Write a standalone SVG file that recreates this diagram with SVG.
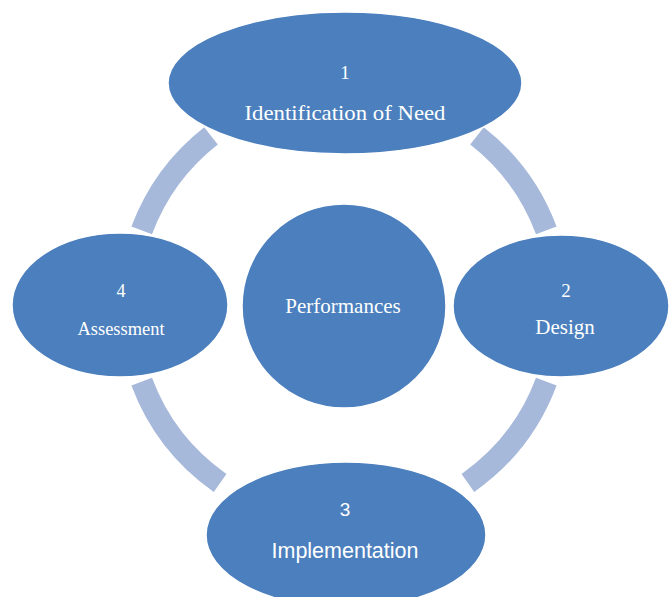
<svg xmlns="http://www.w3.org/2000/svg" width="670" height="597" viewBox="0 0 670 597">
<style>
.arc{fill:none;stroke:#A7B9DB;stroke-width:22;stroke-linecap:butt}
.node{fill:#4C7FBD;stroke:#FFFFFF;stroke-width:1.5}
.serif{font-family:"Liberation Serif","Times New Roman",serif;fill:#FFFFFF;text-anchor:middle}
.sans{font-family:"Liberation Sans",Arial,sans-serif;fill:#FFFFFF;text-anchor:middle}
</style>
<rect width="670" height="597" fill="#FFFFFF"/>
<g id="connectors">
<path class="arc" d="M211,135.8 A216,216 0 0 0 141.7,230.4"/>
<path class="arc" d="M477,135.8 A216,216 0 0 1 546.3,230.4"/>
<path class="arc" d="M546.3,381.6 A216,216 0 0 1 467.9,482.9"/>
<path class="arc" d="M220.1,482.9 A216,216 0 0 1 141.7,381.6"/>
</g>
<g id="node-center">
<circle class="node" cx="344" cy="306" r="102"/>
<text class="serif" x="343" y="313" font-size="21">Performances</text>
</g>
<g id="node-1">
<ellipse class="node" cx="345" cy="83" rx="177" ry="71"/>
<text class="serif" x="345" y="79" font-size="19">1</text>
<text class="serif" x="345" y="120" font-size="21" textLength="201" lengthAdjust="spacingAndGlyphs">Identification of Need</text>
</g>
<g id="node-2">
<ellipse class="node" cx="561" cy="306" rx="108" ry="71"/>
<text class="serif" x="566" y="297" font-size="19">2</text>
<text class="serif" x="565" y="334" font-size="21">Design</text>
</g>
<g id="node-3">
<ellipse class="node" cx="346" cy="535" rx="140" ry="73"/>
<text class="sans" x="345" y="516" font-size="19">3</text>
<text class="sans" x="345" y="558" font-size="21.5">Implementation</text>
</g>
<g id="node-4">
<ellipse class="node" cx="120" cy="305" rx="108" ry="72"/>
<text class="serif" x="121" y="297" font-size="18">4</text>
<text class="serif" x="121" y="335" font-size="18" textLength="87" lengthAdjust="spacingAndGlyphs">Assessment</text>
</g>
</svg>
